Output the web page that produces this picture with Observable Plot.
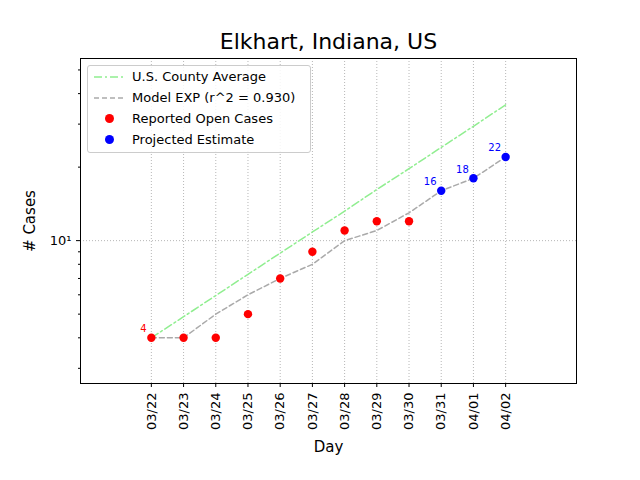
<!DOCTYPE html>
<html>
<head>
<meta charset="utf-8">
<script src="https://cdn.jsdelivr.net/npm/d3@7"></script>
<script src="https://cdn.jsdelivr.net/npm/@observablehq/plot@0.6"></script>
<style>
  body { margin: 0; font-family: "DejaVu Sans", sans-serif; }
  #wrap { position: relative; width: 640px; height: 480px; }
  #legend { position: absolute; left: 87px; top: 65px; width: 222px; height: 86px; border: 1px solid #ccc; border-radius: 3px; background: rgba(255,255,255,0.85); font-size: 13px; }
  .row { display: flex; align-items: center; height: 21px; margin-left: 6px; }
  .sym { width: 30px; display: flex; justify-content: center; margin-right: 8px; }
  .dot { width: 9px; height: 9px; border-radius: 50%; }
</style>
</head>
<body>
<div id="wrap">
  <div id="chart"></div>
  <div id="legend">
    <div class="row"><div class="sym"><svg width="30" height="6"><line x1="0" y1="3" x2="30" y2="3" stroke="#90ee90" stroke-width="1.5" stroke-dasharray="8,3,2,3"/></svg></div>U.S. County Average</div>
    <div class="row"><div class="sym"><svg width="30" height="6"><line x1="0" y1="3" x2="30" y2="3" stroke="#aaa" stroke-width="1.5" stroke-dasharray="5,3"/></svg></div>Model EXP (r^2 = 0.930)</div>
    <div class="row"><div class="sym"><div class="dot" style="background:red"></div></div>Reported Open Cases</div>
    <div class="row"><div class="sym"><div class="dot" style="background:blue"></div></div>Projected Estimate</div>
  </div>
</div>
<script>
const days = ["03/22","03/23","03/24","03/25","03/26","03/27","03/28","03/29","03/30","03/31","04/01","04/02"];
const reported = [4, 4, 4, 5, 7, 9, 11, 12, 12];
const projected = [16, 18, 22];
const model = [4, 4, 5, 6, 7, 8, 10, 11, 13, 16, 18, 22];
const countyAvg = [4, 4.88, 5.96, 7.28, 8.89, 10.85, 13.2, 16.2, 19.7, 24.1, 29.4, 36];

const idx = days.map((d, i) => i);
const rep = reported.map((v, i) => ({i, v}));
const proj = projected.map((v, k) => ({i: reported.length + k, v}));
const mod = model.map((v, i) => ({i, v}));
const avg = countyAvg.map((v, i) => ({i, v}));
const minor = [3,4,5,6,7,8,9,20,30,40,50];

const chart = Plot.plot({
  width: 640, height: 480,
  marginLeft: 80, marginRight: 64, marginTop: 58, marginBottom: 97,
  style: {fontFamily: "DejaVu Sans, sans-serif", fontSize: "13px", color: "black"},
  x: {domain: [-2.2, 13.2]},
  y: {type: "log", domain: [2.6, 55.7]},
  marks: [
    Plot.gridX(idx, {stroke: "#999", strokeOpacity: 0.7, strokeDasharray: "1,2"}),
    Plot.gridY([10], {stroke: "#999", strokeOpacity: 0.7, strokeDasharray: "1,2"}),
    Plot.frame({stroke: "black"}),
    Plot.axisX(idx, {tickFormat: i => days[i], tickRotate: -90, tickSize: 4, label: null, fontSize: 13}),
    Plot.axisY([10], {tickFormat: () => "10¹", tickSize: 4, label: null, fontSize: 13}),
    Plot.axisY(minor, {tickFormat: null, text: null, tickSize: 2, label: null}),
    Plot.line(avg, {x: "i", y: "v", stroke: "#90ee90", strokeWidth: 1.5, strokeDasharray: "8,3,2,3"}),
    Plot.line(mod, {x: "i", y: "v", stroke: "#aaa", strokeWidth: 1.5, strokeDasharray: "5,3"}),
    Plot.dot(rep, {x: "i", y: "v", r: 4.2, fill: "red"}),
    Plot.dot(proj, {x: "i", y: "v", r: 4.2, fill: "blue"}),
    Plot.text(rep.slice(0, 1), {x: "i", y: "v", text: d => String(d.v), fill: "red", fontSize: 10, dx: -8, dy: -9}),
    Plot.text(proj, {x: "i", y: "v", text: d => String(d.v), fill: "blue", fontSize: 10, dx: -11, dy: -9}),
    Plot.text(["Elkhart, Indiana, US"], {frameAnchor: "top", dy: -17, lineAnchor: "middle", fontSize: 22}),
    Plot.text(["Day"], {frameAnchor: "bottom", dy: 64, lineAnchor: "middle", fontSize: 15}),
    Plot.text(["# Cases"], {frameAnchor: "left", dx: -50, rotate: -90, textAnchor: "middle", lineAnchor: "middle", fontSize: 15})
  ]
});
document.getElementById("chart").append(chart);
</script>
</body>
</html>
